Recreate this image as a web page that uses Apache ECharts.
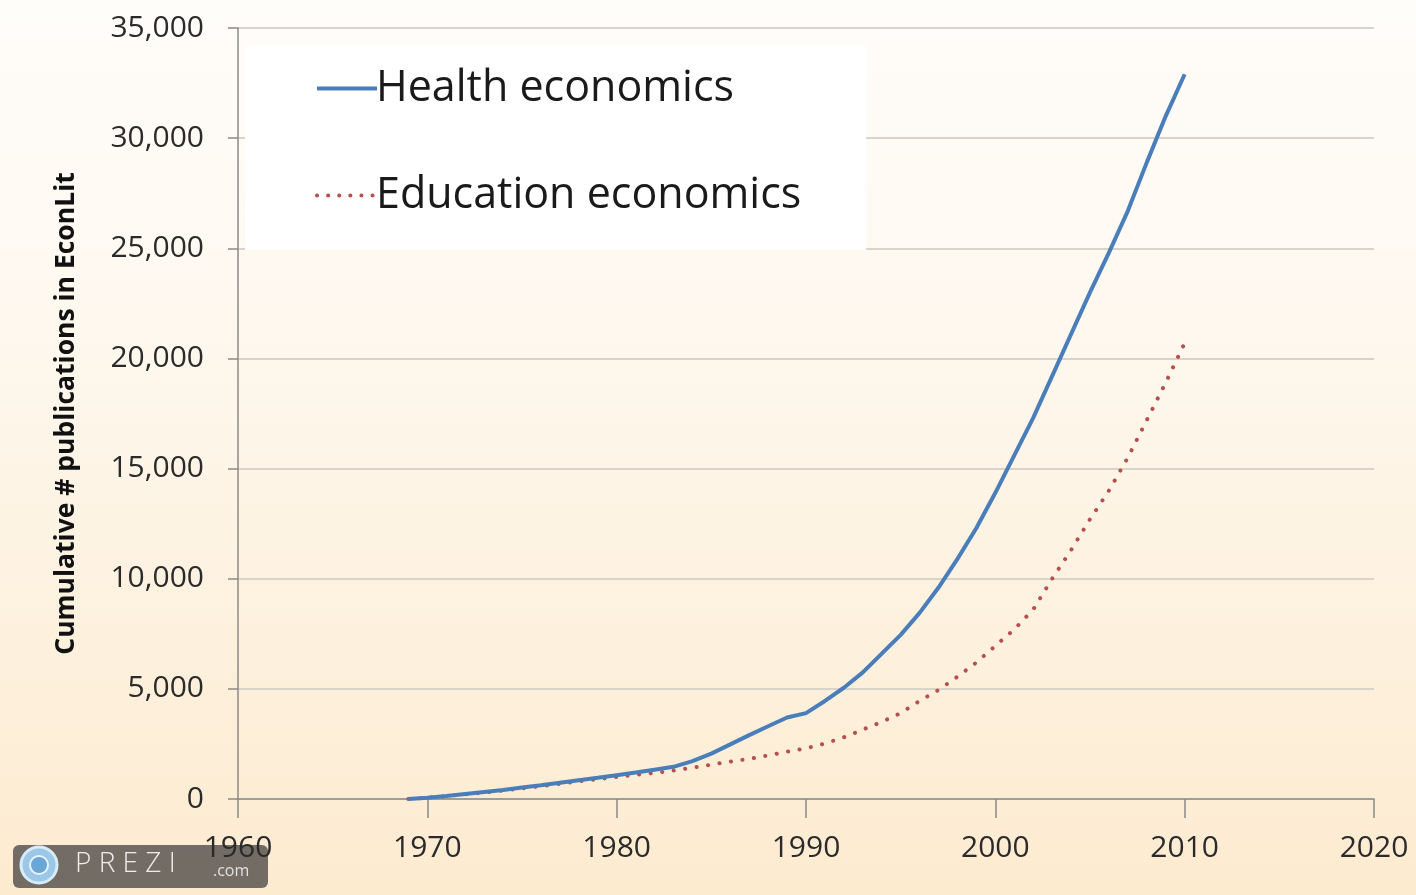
<!DOCTYPE html>
<html>
<head>
<meta charset="utf-8">
<script src="https://cdn.jsdelivr.net/npm/echarts@6/dist/echarts.min.js"></script>
<style>
html,body{margin:0;padding:0;width:1416px;height:895px;overflow:hidden;}
#chart{width:1416px;height:895px;}
</style>
</head>
<body>
<div id="chart"></div>
<script>
const years = [1969,1970,1971,1972,1973,1974,1975,1976,1977,1978,1979,1980,1981,1982,1983,1984,1985,1986,1987,1988,1989,1990,1991,1992,1993,1994,1995,1996,1997,1998,1999,2000,2001,2002,2003,2004,2005,2006,2007,2008,2009,2010];
const healthValues = [0,60,140,230,320,410,520,620,740,850,960,1080,1200,1330,1460,1720,2060,2480,2900,3300,3700,3900,4450,5050,5750,6600,7450,8450,9600,10900,12300,13900,15600,17300,19200,21100,23000,24800,26700,28900,31000,32900];
const educationValues = [0,60,130,210,290,380,480,580,690,800,900,1000,1100,1180,1290,1420,1560,1700,1820,1980,2150,2300,2520,2800,3150,3500,3900,4450,4950,5550,6200,6950,7700,8600,10000,11300,12700,14000,15500,17200,18900,20700];
const seriesNames = ['Health economics','Education economics'];
const xTicks = [1960,1970,1980,1990,2000,2010,2020];
const yTicks = [0,5000,10000,15000,20000,25000,30000,35000];
const yAxisTitle = 'Cumulative # publications in EconLit';

const chart = echarts.init(document.getElementById('chart'));
const pair = (vals) => years.map((y,i)=>[y, vals[i]]);
const fmt = v => v.toLocaleString('en-US');

chart.setOption({
  animation:false,
  backgroundColor:{type:'linear',x:0,y:0,x2:0,y2:1,colorStops:[
    {offset:0,color:'#fffdfa'},{offset:0.35,color:'#fef8ef'},{offset:0.7,color:'#fdf1de'},{offset:1,color:'#fdebd0'}]},
  grid:{left:238,right:42,top:28,bottom:96,containLabel:false},
  legend:{
    orient:'vertical', left:245, top:45,
    padding:[22,65,33,70],
    backgroundColor:'#ffffff',
    itemWidth:60, itemHeight:20, itemGap:64,
    itemStyle:{opacity:0},
    textStyle:{fontFamily:'Open Sans',fontSize:43,color:'#1a1a1a',padding:[0,0,0,-6]},
    data:[
      {name:seriesNames[0],lineStyle:{width:4,color:'#4a7ebb'}},
      {name:seriesNames[1],lineStyle:{width:4,color:'#b5504c',type:[0.1,11],cap:'round'}}
    ]
  },
  xAxis:{
    type:'value', min:xTicks[0], max:xTicks[xTicks.length-1], interval:10,
    axisLine:{show:true,lineStyle:{color:'#8c8a86',width:1.5}},
    axisTick:{show:true,length:19,lineStyle:{color:'#8c8a86',width:1.5}},
    splitLine:{show:false},
    axisLabel:{margin:34,fontFamily:'Open Sans',fontSize:30,color:'#2a2a2a',formatter:v=>String(v)}
  },
  yAxis:{
    type:'value', min:yTicks[0], max:yTicks[yTicks.length-1], interval:5000,
    name:yAxisTitle, nameLocation:'middle', nameGap:158, nameRotate:90,
    nameTextStyle:{fontFamily:'Open Sans',fontWeight:'bold',fontSize:26.5,color:'#111'},
    axisLine:{show:true,lineStyle:{color:'#8c8a86',width:1.5}},
    axisTick:{show:true,length:10,lineStyle:{color:'#8c8a86',width:1.5}},
    splitLine:{show:true,lineStyle:{color:'#d9d4cb',width:2}},
    axisLabel:{margin:34,fontFamily:'Open Sans',fontSize:30,color:'#2a2a2a',formatter:fmt}
  },
  series:[
    {name:seriesNames[0],type:'line',data:pair(healthValues),showSymbol:false,symbol:'none',
     lineStyle:{color:'#4a7ebb',width:4},itemStyle:{color:'#4a7ebb'},z:3},
    {name:seriesNames[1],type:'line',data:pair(educationValues),showSymbol:false,symbol:'none',
     lineStyle:{color:'#b5504c',width:4,type:[0.1,11.5],cap:'round'},itemStyle:{color:'#b5504c'},z:2}
  ],
  graphic:[
    {type:'group',left:13,top:845,children:[
      {type:'rect',shape:{x:0,y:0,width:255,height:43,r:6},style:{fill:'rgba(90,86,82,0.85)'}},
      {type:'circle',shape:{cx:26,cy:20,r:18},style:{fill:'#9cc7e6',stroke:'#d6ecfa',lineWidth:3}},
      {type:'circle',shape:{cx:26,cy:20,r:9},style:{fill:'#6aa6d6',stroke:'#e6f4ff',lineWidth:2}},
      {type:'text',x:62,y:5,style:{text:'P R E Z I',fill:'#ececec',font:'300 28px "Open Sans"'}},
      {type:'text',x:200,y:18,style:{text:'.com',fill:'#e0e0e0',font:'16px "Open Sans"'}}
    ]}
  ]
});
</script>
</body>
</html>
